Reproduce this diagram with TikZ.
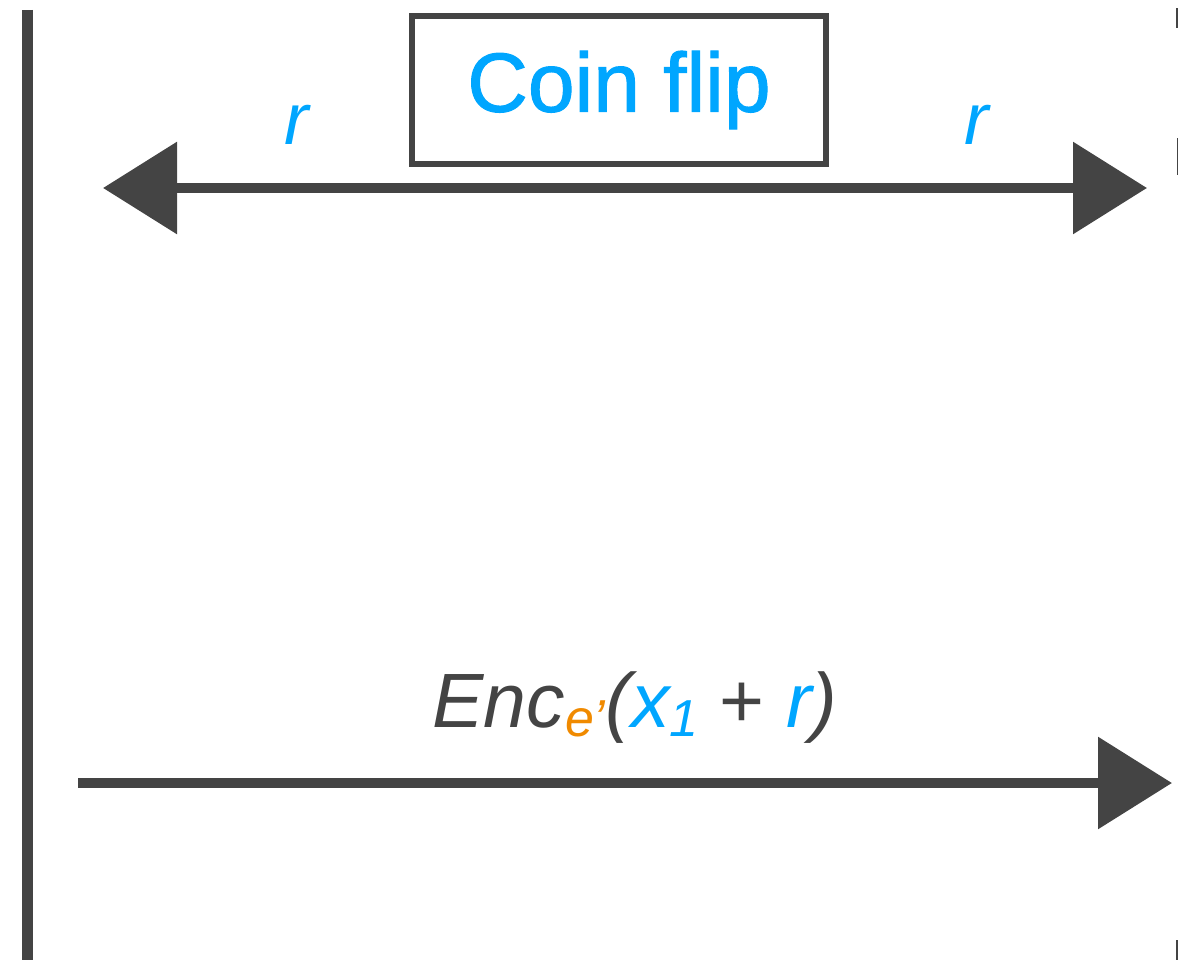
\documentclass[tikz,border=0pt]{standalone}
\usepackage{fontspec}
\setmainfont{Liberation Sans}
\newfontfamily\medfont{Liberation Sans}[BoldFont={Liberation Sans}, BoldFeatures={FakeBold=1.2}]
\usetikzlibrary{arrows.meta}
\definecolor{ink}{RGB}{68,68,68}
\definecolor{cblue}{RGB}{0,166,255}
\definecolor{corange}{RGB}{240,138,0}
\tikzset{
  bar/.style={draw=ink, line width=11pt, line cap=butt},
  arr/.style={draw=ink, line width=10pt, -{Triangle[length=74pt,width=90pt]}},
  darr/.style={draw=ink, line width=10pt, {Triangle[length=74pt,width=90pt]}-{Triangle[length=74pt,width=90pt]}},
  framebox/.style={draw=ink, line width=6pt, minimum width=414pt, minimum height=148pt, inner sep=0pt,
    font=\medfont\bfseries\fontsize{84}{90}\selectfont, text=cblue},
  lbl/.style={font=\fontsize{73}{80}\selectfont\itshape, text=cblue, inner sep=0pt}
}
\begin{document}
\begin{tikzpicture}[x=1pt,y=-1pt]
\useasboundingbox (0,0) rectangle (1178,960);
% left bar
\coordinate (lt) at (27,10);
\coordinate (lb) at (27,960);
\draw[bar] (lt) -- (lb);
% right bar fragments
\coordinate (r1a) at (1181,8); \coordinate (r1b) at (1181,28);
\coordinate (r2a) at (1182,138); \coordinate (r2b) at (1182,175);
\coordinate (r3a) at (1181,940); \coordinate (r3b) at (1181,960);
\draw[bar] (r1a) -- (r1b);
\draw[bar] (r2a) -- (r2b);
\draw[bar] (r3a) -- (r3b);
% coin flip box
\node[framebox] (coin) at (619,90) {Coin flip};
% r labels
\node[lbl, anchor=base] (rl) at (297,145) {r};
\node[lbl, anchor=base] (rr) at (977,145) {r};
% top double arrow
\coordinate (ta) at (103,188);
\coordinate (tb) at (1147,188);
\draw[darr] (ta) -- (tb);
% Enc label
\node[anchor=base, inner sep=0pt, font=\fontsize{77}{84}\selectfont, text=ink] (enc) at (635,727)
  {\itshape Enc\raisebox{-9pt}{\fontsize{52}{56}\selectfont\color{corange}e’}(\color{cblue}x\raisebox{-9pt}{\fontsize{52}{56}\selectfont 1}\color{ink}\upshape{} + \itshape\color{cblue}r\color{ink})};
% bottom arrow
\coordinate (ba) at (78,783);
\coordinate (bb) at (1172,783);
\draw[arr] (ba) -- (bb);
\end{tikzpicture}
\end{document}
